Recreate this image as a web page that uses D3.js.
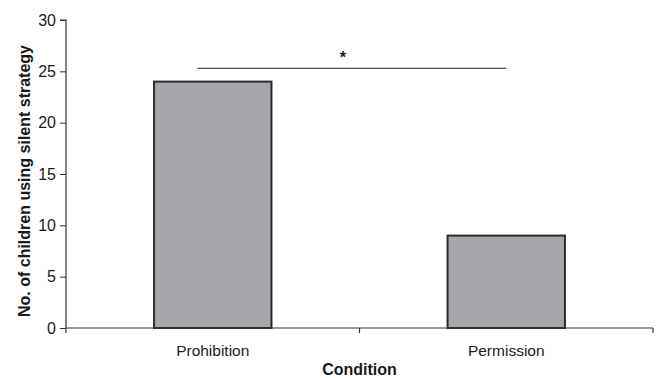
<!DOCTYPE html>
<html>
<head>
<meta charset="utf-8">
<script src="https://d3js.org/d3.v7.min.js"></script>
<style>
  body { margin: 0; background: #fff; }
  text { font-family: "Liberation Sans", Arial, sans-serif; fill: #1a1a1a; }
</style>
</head>
<body>
<script>
const conditions = ["Prohibition", "Permission"];
const counts = [24, 9];
const yTicks = [0, 5, 10, 15, 20, 25, 30];
const sigLevel = 25.3;        // height of the significance bracket
const sigFrom = 0.37;         // start, as fraction of first bar width
const sigTo = 0.5;            // end, as fraction of second bar width
const sigLabel = "*";

const width = 663, height = 378;
const margin = {top: 20, left: 66};

const svg = d3.select("body").append("svg")
    .attr("width", width)
    .attr("height", height);

const x = d3.scaleBand()
    .domain(conditions)
    .range([margin.left, 653])
    .paddingInner(0.6)
    .paddingOuter(0.3);

const y = d3.scaleLinear()
    .domain([0, 30])
    .range([328, margin.top]);

// bars
svg.selectAll(".bar")
    .data(conditions)
    .join("rect")
    .classed("bar", true)
    .attr("x", d => x(d))
    .attr("y", (d, i) => y(counts[i]))
    .attr("width", x.bandwidth())
    .attr("height", (d, i) => y(0) - y(counts[i]))
    .attr("fill", "#a6a7ab")
    .attr("stroke", "#2b2b2b")
    .attr("stroke-width", 2);

// y axis
const yAxis = svg.append("g")
    .attr("transform", `translate(${margin.left},0)`)
    .call(d3.axisLeft(y).tickValues(yTicks).tickSize(6).tickPadding(4));
yAxis.select(".domain").attr("stroke", "#333").attr("stroke-width", 1.2)
    .attr("d", `M-6,${y(30)}H0V${y(0) + 5}`);
yAxis.selectAll(".tick line").attr("stroke", "#333");
yAxis.selectAll("text").style("font-size", "16px");

// x axis: line with tick marks at the band boundaries
const xAxisG = svg.append("g");
const step = x.step();
const [x0, x1] = x.range();
xAxisG.append("line")
    .attr("x1", x0).attr("x2", x1)
    .attr("y1", y(0)).attr("y2", y(0))
    .attr("stroke", "#333").attr("stroke-width", 1.2);
xAxisG.selectAll(".xtick")
    .data([x0 + step, x1])
    .join("line")
    .attr("x1", d => d).attr("x2", d => d)
    .attr("y1", y(0)).attr("y2", y(0) + 5)
    .attr("stroke", "#333").attr("stroke-width", 1.2);
xAxisG.selectAll(".xlabel")
    .data(conditions)
    .join("text")
    .attr("x", d => x(d) + x.bandwidth() / 2)
    .attr("y", 356)
    .attr("text-anchor", "middle")
    .style("font-size", "15.5px")
    .text(d => d);

// axis titles
svg.append("text")
    .attr("x", (x0 + x1) / 2)
    .attr("y", 375)
    .attr("text-anchor", "middle")
    .style("font-size", "16px")
    .style("font-weight", "bold")
    .text("Condition");

svg.append("text")
    .attr("transform", `translate(30,181) rotate(-90)`)
    .attr("text-anchor", "middle")
    .style("font-size", "16px")
    .style("font-weight", "bold")
    .text("No. of children using silent strategy");

// significance bracket
const bx1 = x(conditions[0]) + sigFrom * x.bandwidth();
const bx2 = x(conditions[1]) + sigTo * x.bandwidth();
svg.append("line")
    .attr("x1", bx1).attr("x2", bx2)
    .attr("y1", y(sigLevel)).attr("y2", y(sigLevel))
    .attr("stroke", "#222").attr("stroke-width", 1.2);
svg.append("text")
    .attr("x", (bx1 + bx2) / 2 - 9)
    .attr("y", y(sigLevel) - 5)
    .attr("text-anchor", "middle")
    .style("font-size", "16px")
    .style("font-weight", "bold")
    .text(sigLabel);
</script>
</body>
</html>
